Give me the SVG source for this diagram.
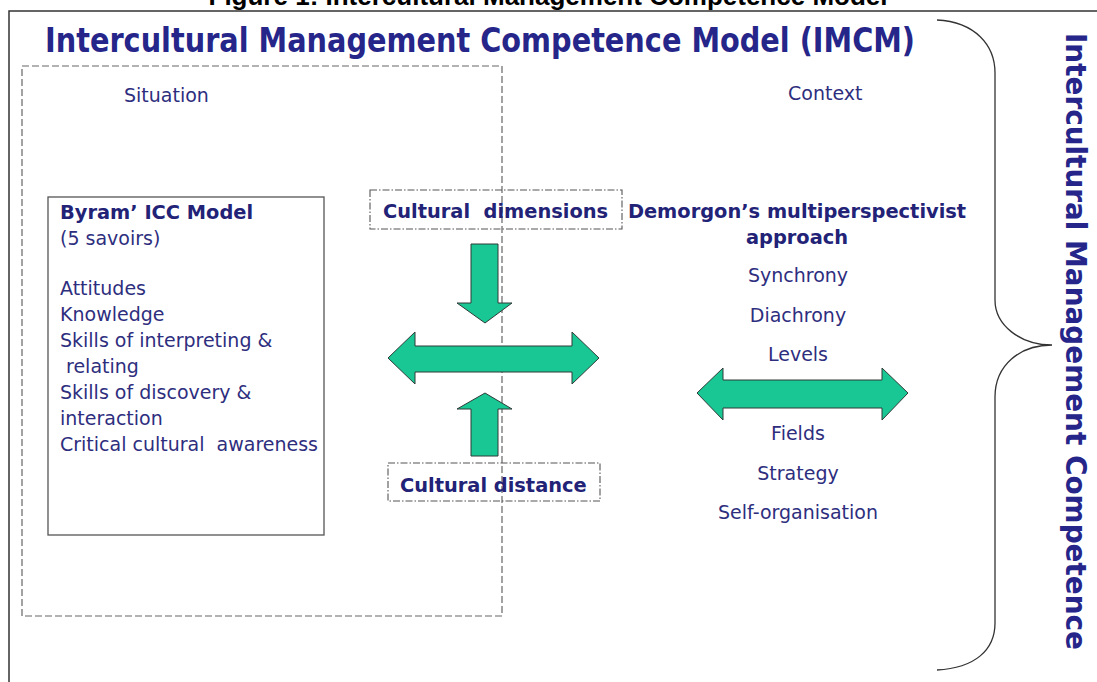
<svg xmlns="http://www.w3.org/2000/svg" width="1097" height="682" viewBox="0 0 1097 682">
  <style>
    .caption { font-family: "Liberation Sans", Arial, sans-serif; font-weight: bold; font-size: 26px; fill: #000; }
    .title { font-family: "DejaVu Sans", Verdana, sans-serif; font-weight: bold; font-size: 34px; fill: #25258a; }
    .side { font-family: "DejaVu Sans", Verdana, sans-serif; font-weight: bold; font-size: 28px; fill: #25258a; }
    .txt { font-family: "DejaVu Sans", Verdana, sans-serif; font-size: 19px; fill: #2e2e7e; }
    .bold { font-family: "DejaVu Sans", Verdana, sans-serif; font-weight: bold; font-size: 19.4px; fill: #222277; }
    .mid { text-anchor: middle; }
    .frame { fill: none; stroke: #333; stroke-width: 1.5; }
    .dashed { fill: none; stroke: #666; stroke-width: 1.2; stroke-dasharray: 7 3; }
    .dashdot { fill: none; stroke: #555; stroke-width: 1.1; stroke-dasharray: 7 2 1.5 2; }
    .arrow { fill: #19c795; stroke: #2f3b36; stroke-width: 1; }
    .brace { fill: none; stroke: #333; stroke-width: 1.3; }
  </style>

  <rect width="1097" height="682" fill="#fff"/>

  <!-- figure caption, partly above the page -->
  <text class="caption mid" x="548" y="5">Figure 1: Intercultural Management Competence Model</text>

  <!-- outer frame (top and left edges) -->
  <path class="frame" d="M9,682 L9,11 L1097,11"/>

  <g id="title">
    <text class="title" x="45" y="52" textLength="870" lengthAdjust="spacingAndGlyphs">Intercultural Management Competence Model (IMCM)</text>
  </g>

  <g id="situation">
    <rect class="dashed" x="22" y="66" width="480" height="550"/>
    <text class="txt" x="124" y="102">Situation</text>
  </g>

  <g id="context">
    <text class="txt" x="788" y="100">Context</text>
  </g>

  <g id="byram">
    <rect x="48" y="197" width="276" height="338" fill="none" stroke="#555" stroke-width="1.3"/>
    <text class="bold" x="60" y="219">Byram’ ICC Model</text>
    <text class="txt" x="60" y="245">(5 savoirs)</text>
    <text class="txt" x="60" y="295">Attitudes</text>
    <text class="txt" x="60" y="321">Knowledge</text>
    <text class="txt" x="60" y="347">Skills of interpreting &amp;</text>
    <text class="txt" x="60" y="373" xml:space="preserve"> relating</text>
    <text class="txt" x="60" y="399">Skills of discovery &amp;</text>
    <text class="txt" x="60" y="425">interaction</text>
    <text class="txt" x="60" y="451" xml:space="preserve">Critical cultural  awareness</text>
  </g>

  <g id="cultural-dimensions">
    <rect class="dashdot" x="370" y="190" width="252" height="39"/>
    <text class="bold" x="383" y="218" xml:space="preserve">Cultural  dimensions</text>
  </g>

  <g id="cultural-distance">
    <rect class="dashdot" x="388" y="463" width="212" height="38"/>
    <text class="bold" x="400" y="492">Cultural distance</text>
  </g>

  <g id="demorgon">
    <text class="bold mid" x="797" y="218">Demorgon’s multiperspectivist</text>
    <text class="bold mid" x="797" y="244">approach</text>
    <text class="txt mid" x="798" y="282">Synchrony</text>
    <text class="txt mid" x="798" y="322">Diachrony</text>
    <text class="txt mid" x="798" y="361">Levels</text>
    <text class="txt mid" x="798" y="440">Fields</text>
    <text class="txt mid" x="798" y="480">Strategy</text>
    <text class="txt mid" x="798" y="519">Self-organisation</text>
  </g>

  <g id="connectors">
    <!-- down arrow from cultural dimensions -->
    <path class="arrow" d="M471,244 L498,244 L498,303 L512,303 L485,323 L457,303 L471,303 Z"/>
    <!-- up arrow from cultural distance -->
    <path class="arrow" d="M471,456 L498,456 L498,409 L512,409 L485,393 L457,409 L471,409 Z"/>
    <!-- left-right arrow in the middle -->
    <path class="arrow" d="M388,358 L415,332 L415,346 L572,346 L572,332 L599,358 L572,384 L572,372 L415,372 L415,384 Z"/>
    <!-- left-right arrow in the context column -->
    <path class="arrow" d="M697,393 L723,368 L723,380 L882,380 L882,368 L908,393 L882,420 L882,408 L723,408 L723,420 Z"/>
  </g>

  <g id="competence">
    <path class="brace" d="M937,20 C975,22 995,45 995,73 L995,300 C995,325 1020,345 1052,345 C1020,345 995,365 995,397 L995,623 C995,650 975,668 937,670"/>
    <text class="side" transform="translate(1066,33) rotate(90)" textLength="617" lengthAdjust="spacingAndGlyphs">Intercultural Management Competence</text>
  </g>
</svg>
